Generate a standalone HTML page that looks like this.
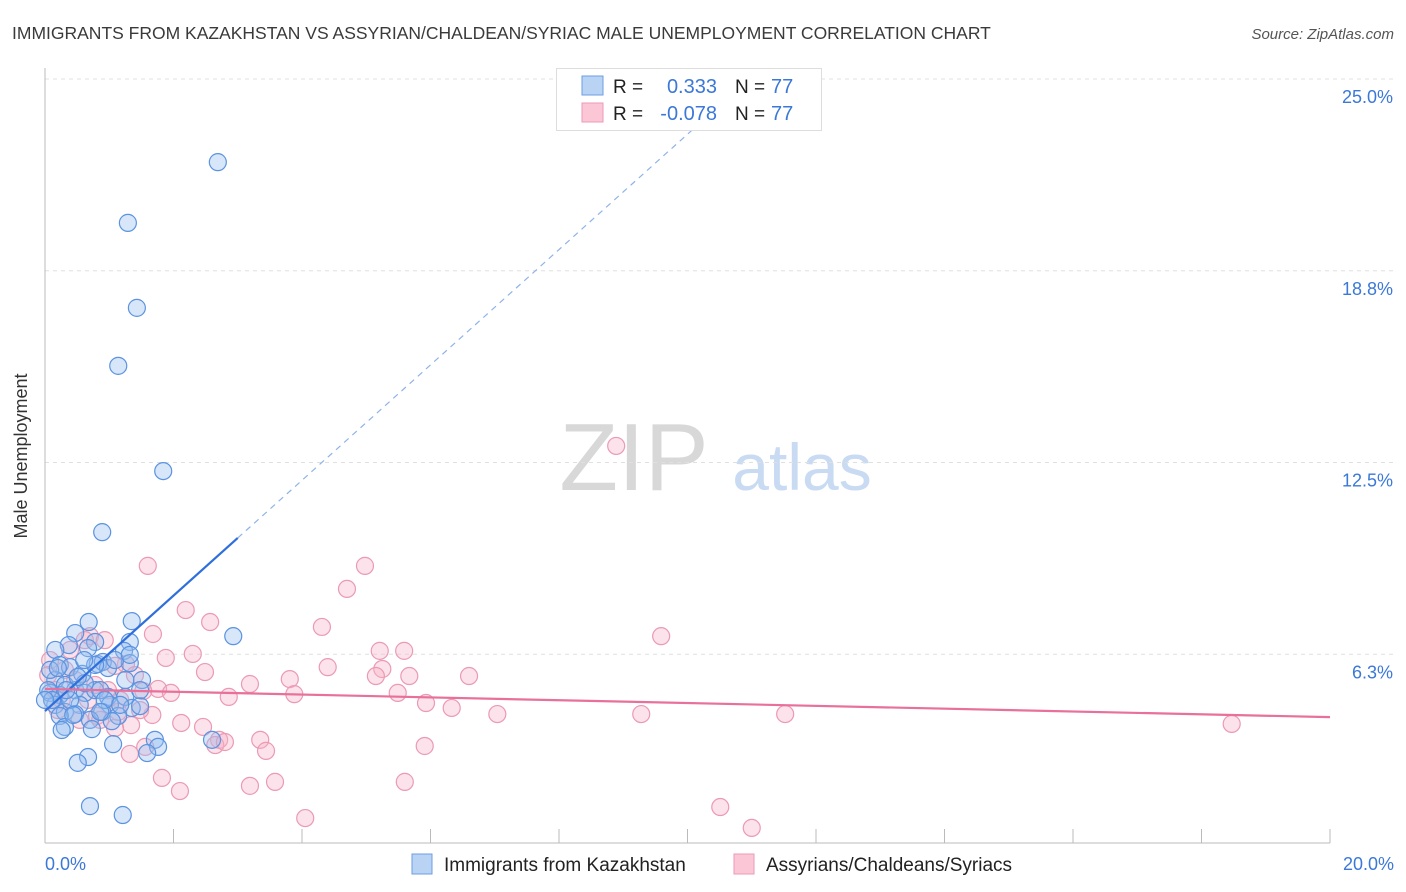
<!DOCTYPE html>
<html><head><meta charset="utf-8"><style>
body{margin:0;background:#fff;font-family:"Liberation Sans",sans-serif;}
#wrap{position:relative;width:1406px;height:892px;overflow:hidden;}
svg text{font-family:"Liberation Sans",sans-serif;}
</style></head><body>
<div id="wrap">
<svg id="chart" width="1406" height="892">
<text x="12" y="39" font-size="17.5" fill="#3a3a3a">IMMIGRANTS FROM KAZAKHSTAN VS ASSYRIAN/CHALDEAN/SYRIAC MALE UNEMPLOYMENT CORRELATION CHART</text>
<text x="1394" y="39" font-size="15" fill="#555" font-style="italic" text-anchor="end">Source: ZipAtlas.com</text>
<text x="634" y="490" font-size="96" fill="#d8d8d8" font-family="Liberation Serif" text-anchor="middle">ZIP</text>
<text x="802" y="490" font-size="66" fill="#c9dbf3" text-anchor="middle">atlas</text>
<g id="grid"></g>
<g id="axes"></g>
<g id="pts"></g>
<g id="lines"></g>
<text x="27" y="456" font-size="18" fill="#333" text-anchor="middle" transform="rotate(-90 27 456)">Male Unemployment</text>
<text x="45" y="870" font-size="18" fill="#3b78d8">0.0%</text>
<text x="1394" y="870" font-size="18" fill="#3b78d8" text-anchor="end">20.0%</text>
<g>
<rect x="556.5" y="68.5" width="265" height="62" fill="#fff" stroke="#ddd"/>
<rect x="582" y="76" width="21" height="19" fill="#b9d3f5" stroke="#6d9fe0"/>
<rect x="582" y="103" width="21" height="19" fill="#fbc6d5" stroke="#ec9ab5"/>
<text x="613" y="93" font-size="19" fill="#222">R =</text>
<text x="717" y="93" font-size="20" fill="#3b78d8" text-anchor="end">0.333</text>
<text x="735" y="93" font-size="19" fill="#222">N =</text>
<text x="771" y="93" font-size="20" fill="#3b78d8">77</text>
<text x="613" y="120" font-size="19" fill="#222">R =</text>
<text x="717" y="120" font-size="20" fill="#3b78d8" text-anchor="end">-0.078</text>
<text x="735" y="120" font-size="19" fill="#222">N =</text>
<text x="771" y="120" font-size="20" fill="#3b78d8">77</text>
</g>
<g>
<rect x="412" y="854" width="20" height="20" fill="#b9d3f5" stroke="#6d9fe0"/>
<text x="444" y="871" font-size="19" fill="#222">Immigrants from Kazakhstan</text>
<rect x="734" y="854" width="20" height="20" fill="#fbc6d5" stroke="#ec9ab5"/>
<text x="766" y="871" font-size="19" fill="#222">Assyrians/Chaldeans/Syriacs</text>
</g>
</svg>
</div>
<script>
const yTicks = [6.25, 12.5, 18.75, 25];
const yTickLabels = ["6.3%", "12.5%", "18.8%", "25.0%"];
const xTickCount = 10;
const blueX = [2.69,1.29,1.43,1.14,1.84,0.89,2.93,1.35,0.68,0.47,0.37,0.78,1.32,1.23,0.67,0.16,0.23,0.39,0.58,0.82,0.90,1.32,0.16,0.31,0.47,0.62,0.08,0.23,0.78,0.98,1.25,1.01,0.54,0.16,0.31,0.47,0.89,1.35,1.51,1.48,1.14,0.70,0.23,1.04,0.31,0.73,1.06,1.71,1.76,1.59,2.60,0.67,0.51,0.70,1.21,0.08,0.05,0.11,0.20,0.39,0.98,1.25,1.48,0.86,0.44,0.62,0.00,0.26,0.78,1.09,1.32,0.93,0.61,0.33,0.51,0.86,1.17];
const blueY = [22.29,20.31,17.54,15.65,12.22,10.23,6.84,7.33,7.30,6.94,6.55,6.65,6.65,6.36,6.45,6.39,5.90,5.83,5.61,5.93,6.00,5.96,5.41,5.25,5.08,4.99,4.99,4.92,5.08,4.86,4.86,4.60,4.60,4.60,4.37,4.30,4.37,4.50,5.41,4.56,4.24,4.11,4.24,4.07,3.88,3.81,3.32,3.46,3.23,3.03,3.46,2.90,2.71,1.30,1.01,5.74,5.08,4.76,5.80,4.76,5.80,5.41,5.08,5.08,4.27,5.31,4.76,3.78,5.90,6.06,6.23,4.76,6.06,5.08,5.51,4.37,4.60];
const pinkX = [8.89,1.60,4.98,4.70,2.19,2.57,4.31,1.68,9.59,0.70,5.21,5.59,2.30,2.49,1.88,1.26,4.40,5.25,3.81,5.15,5.67,6.60,3.19,1.76,3.88,5.49,1.96,2.86,1.53,5.93,6.33,7.04,9.28,11.52,18.47,1.67,2.12,2.46,2.71,1.34,1.09,0.81,3.35,3.44,2.65,2.80,1.32,1.56,5.91,1.82,2.10,3.19,3.58,5.60,4.05,10.51,11.00,0.08,0.16,0.26,0.47,0.67,0.98,1.17,0.86,1.48,0.31,0.54,0.78,1.09,1.40,0.20,0.05,0.39,0.93,1.14,0.62];
const pinkY = [13.04,9.13,9.13,8.38,7.69,7.30,7.14,6.91,6.84,6.84,6.36,6.36,6.26,5.67,6.13,5.93,5.83,5.77,5.44,5.54,5.54,5.54,5.28,5.12,4.95,4.99,4.99,4.86,5.05,4.66,4.50,4.30,4.30,4.30,3.98,4.27,4.01,3.88,3.46,3.94,3.85,4.24,3.46,3.10,3.29,3.39,3.00,3.23,3.26,2.22,1.79,1.96,2.09,2.09,0.91,1.27,0.59,6.06,5.08,4.76,5.41,4.76,5.08,4.76,4.11,4.43,5.74,4.11,5.25,5.87,5.57,4.43,5.57,6.39,6.71,4.37,6.71];
const blueTrend = [4.40, 1.88];   // intercept, slope
const pinkTrend = [5.12, -0.046];
const xMax = 20, yMax = 25;

const X0 = 45, X1 = 1330, Y0 = 846, Y1 = 79;
function xs(v){ return X0 + (X1 - X0) * v / xMax; }
function ys(v){ return Y0 - (Y0 - Y1) * v / yMax; }
const NS = "http://www.w3.org/2000/svg";
function mk(tag, attrs, parent){ const e = document.createElementNS(NS, tag); for (const k in attrs) e.setAttribute(k, attrs[k]); parent.appendChild(e); return e; }

const grid = document.getElementById('grid');
const axes = document.getElementById('axes');
yTicks.forEach((t, i) => {
  const g = mk('line', {x1: X0, x2: 1393, y1: ys(t), y2: ys(t), stroke: '#e0e0e0', 'stroke-dasharray': '4,4'}, grid);
  
  
  const tx = mk('text', {x: 1393, y: ys(t) + 24, 'font-size': 18, fill: '#3b78d8', 'text-anchor': 'end'}, grid);
  tx.textContent = yTickLabels[i];
  
  
});
const ya = mk('line', {x1: X0, x2: X0, y1: 68, y2: 843, stroke: '#bbb'}, axes);


const xa = mk('line', {x1: X0, x2: X1, y1: 843, y2: 843, stroke: '#bbb'}, axes);


for (let i = 0; i <= xTickCount; i++) {
  const v = xMax * i / xTickCount;
  const tk = mk('line', {x1: xs(v), x2: xs(v), y1: 829, y2: 843, stroke: '#bbb'}, axes);
  
  
}

const pts = document.getElementById('pts');
pinkX.forEach((x, i) => {
  const c = mk('circle', {cx: xs(x), cy: ys(pinkY[i]), r: 8.5, fill: 'rgba(246,178,200,0.38)', stroke: '#eb9ab4', 'stroke-width': 1.2}, pts);
  
  
});
blueX.forEach((x, i) => {
  const c = mk('circle', {cx: xs(x), cy: ys(blueY[i]), r: 8.5, fill: 'rgba(150,190,240,0.38)', stroke: '#5b93e0', 'stroke-width': 1.2}, pts);
  
  
});

const lines = document.getElementById('lines');
const solidEnd = 3.0, dashEnd = 10.8;
const b1 = mk('line', {x1: xs(0), y1: ys(blueTrend[0]), x2: xs(solidEnd), y2: ys(blueTrend[0] + blueTrend[1] * solidEnd), stroke: '#2f6fdc', 'stroke-width': 2.2}, lines);


const b2 = mk('line', {x1: xs(solidEnd), y1: ys(blueTrend[0] + blueTrend[1] * solidEnd), x2: xs(dashEnd), y2: ys(blueTrend[0] + blueTrend[1] * dashEnd), stroke: '#8fb3ea', 'stroke-width': 1.2, 'stroke-dasharray': '6,5'}, lines);


const p1 = mk('line', {x1: xs(0), y1: ys(pinkTrend[0]), x2: xs(xMax), y2: ys(pinkTrend[0] + pinkTrend[1] * xMax), stroke: '#e8709a', 'stroke-width': 2.2}, lines);


</script>
</body></html>
